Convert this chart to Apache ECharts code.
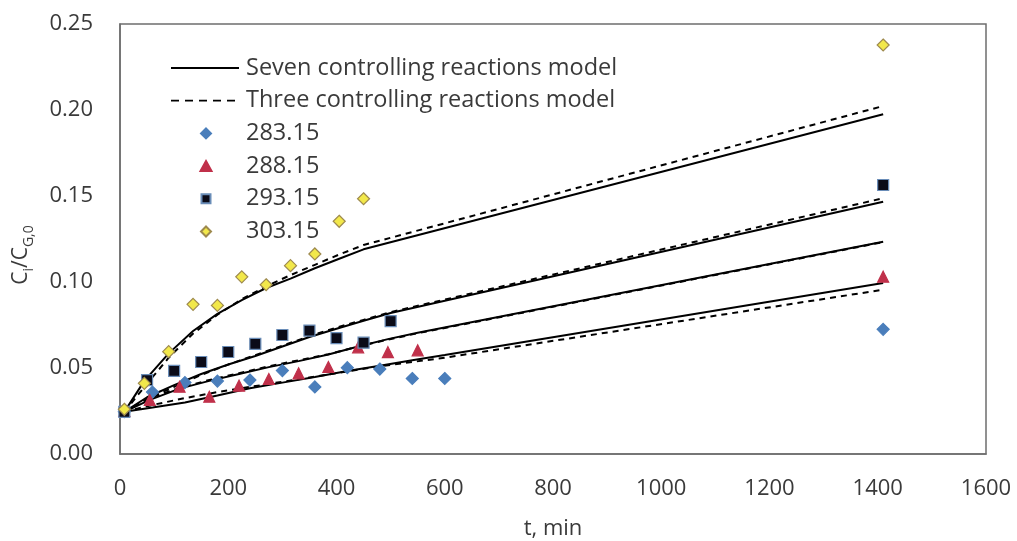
<!DOCTYPE html>
<html>
<head>
<meta charset="utf-8">
<script src="https://cdn.jsdelivr.net/npm/echarts@6/dist/echarts.min.js"></script>
<style>html,body{margin:0;padding:0;background:#fff}#c{width:1017px;height:541px}</style>
</head>
<body>
<div id="c"></div>
<script>
// ---- data ----
var xTicks = [0, 200, 400, 600, 800, 1000, 1200, 1400, 1600];
var yTicks = [0, 0.05, 0.10, 0.15, 0.20, 0.25];

var t283 = [8, 60, 120, 180, 240, 300, 360, 420, 480, 540, 600, 1410];
var v283 = [0.0246, 0.0360, 0.0415, 0.0424, 0.0430, 0.0485, 0.0390, 0.0502, 0.0494, 0.0439, 0.0439, 0.0725];
var t288 = [8, 55, 110, 165, 220, 275, 330, 385, 440, 495, 550, 1410];
var v288 = [0.0250, 0.0314, 0.0391, 0.0333, 0.0397, 0.0436, 0.0469, 0.0506, 0.0620, 0.0592, 0.0603, 0.1031];
var t293 = [8, 50, 100, 150, 200, 250, 300, 350, 400, 450, 500, 1410];
var v293 = [0.0245, 0.0430, 0.0483, 0.0535, 0.0593, 0.0640, 0.0692, 0.0717, 0.0674, 0.0647, 0.0772, 0.1564];
var t303 = [8, 45, 90, 135, 180, 225, 270, 315, 360, 405, 450, 1410];
var v303 = [0.0260, 0.0411, 0.0595, 0.0870, 0.0864, 0.1030, 0.0984, 0.1095, 0.1163, 0.1353, 0.1484, 0.2378];

// model curves (evaluated at the same times)
var seven283 = [0.0245, 0.0270, 0.0300, 0.0340, 0.0382, 0.0415, 0.0448, 0.0482, 0.0513, 0.0545, 0.0575, 0.0994];
var three283 = [0.0245, 0.0285, 0.0325, 0.0360, 0.0390, 0.0420, 0.0450, 0.0480, 0.0510, 0.0535, 0.0560, 0.0955];
var seven288 = [0.0245, 0.0315, 0.0380, 0.0425, 0.0465, 0.0505, 0.0540, 0.0578, 0.0625, 0.0668, 0.0705, 0.1234];
var three288 = [0.0245, 0.0325, 0.0385, 0.0430, 0.0470, 0.0510, 0.0545, 0.0580, 0.0625, 0.0665, 0.0702, 0.1232];
var seven293 = [0.0245, 0.0330, 0.0400, 0.0465, 0.0520, 0.0570, 0.0625, 0.0680, 0.0728, 0.0775, 0.0820, 0.1467];
var three293 = [0.0245, 0.0320, 0.0390, 0.0460, 0.0520, 0.0575, 0.0630, 0.0685, 0.0735, 0.0780, 0.0825, 0.1487];
var seven303 = [0.0245, 0.0425, 0.0585, 0.0715, 0.0815, 0.0895, 0.0965, 0.1020, 0.1080, 0.1135, 0.1190, 0.1975];
var three303 = [0.0245, 0.0390, 0.0560, 0.0700, 0.0810, 0.0900, 0.0975, 0.1040, 0.1100, 0.1160, 0.1215, 0.2023];

var SEVEN = 'Seven controlling reactions model';
var THREE = 'Three controlling reactions model';
var legendNames = [SEVEN, THREE, '283.15', '288.15', '293.15', '303.15'];

function pairs(t, v) { return t.map(function (x, i) { return [x, v[i]]; }); }

var FONT = 'Open Sans';
var TXT = '#3a3a3a';

// legend icons: 68x10 boxes (degenerate corner points fix the bounding box)
var BOX = 'M0,0 L0,0 M68,10 L68,10 ';
var ICONS = {};
ICONS[SEVEN] = 'path://' + BOX + 'M0,4.1 L68,4.1 L68,5.9 L0,5.9 Z';
ICONS[THREE] = 'path://' + BOX + 'M0,4.1 L8,4.1 L8,5.9 L0,5.9 Z M14,4.1 L22,4.1 L22,5.9 L14,5.9 Z M28,4.1 L36,4.1 L36,5.9 L28,5.9 Z M42,4.1 L50,4.1 L50,5.9 L42,5.9 Z M56,4.1 L64,4.1 L64,5.9 L56,5.9 Z';
ICONS['283.15'] = 'path://' + BOX + 'M35,0 L40,5 L35,10 L30,5 Z';
ICONS['288.15'] = 'path://' + BOX + 'M35,0 L40.5,10 L29.5,10 Z';
ICONS['293.15'] = 'path://' + BOX + 'M30.5,0.5 L39.5,0.5 L39.5,9.5 L30.5,9.5 Z';
ICONS['303.15'] = 'path://' + BOX + 'M35,0 L40,5 L35,10 L30,5 Z';

function modelLine(name, t, v, dashed) {
  return {
    name: name, type: 'line', data: pairs(t, v), symbol: 'none', z: 2,
    lineStyle: { color: '#000', width: 2, type: dashed ? [6, 5] : 'solid' },
    itemStyle: { color: '#000', borderWidth: 0 }, animation: false, silent: true
  };
}
function scatter(name, t, v, symbol, size, fill, border) {
  return {
    name: name, type: 'scatter', data: pairs(t, v), symbol: symbol, symbolSize: size, z: 5,
    itemStyle: { color: fill, borderColor: border, borderWidth: 1.2, opacity: 1 },
    animation: false
  };
}

var series = [
  modelLine(SEVEN, t283, seven283, false),
  modelLine(SEVEN, t288, seven288, false),
  modelLine(SEVEN, t293, seven293, false),
  modelLine(SEVEN, t303, seven303, false),
  modelLine(THREE, t283, three283, true),
  modelLine(THREE, t288, three288, true),
  modelLine(THREE, t293, three293, true),
  modelLine(THREE, t303, three303, true),
  scatter('283.15', t283, v283, 'diamond', 12, '#4A7EBB', '#4A7EBB'),
  scatter('288.15', t288, v288, 'triangle', 11, '#C0304A', '#C0304A'),
  scatter('293.15', t293, v293, 'rect', 11, '#0B0B18', '#6A8DB8'),
  scatter('303.15', t303, v303, 'diamond', 12, '#F2E84A', '#9E8A4E')
];

var chart = echarts.init(document.getElementById('c'), null, { renderer: 'canvas' });
chart.setOption({
  animation: false,
  backgroundColor: '#fff',
  grid: { left: 120, right: 31, top: 24, bottom: 87, show: true, borderColor: '#6e6e6e', borderWidth: 1.5, backgroundColor: 'transparent', outerBoundsMode: 'none', containLabel: false },
  legend: {
    data: legendNames.map(function (n) { return { name: n, icon: ICONS[n] }; }),
    orient: 'vertical', left: 170, top: 56, padding: 0,
    itemWidth: 68, itemHeight: 10, itemGap: 8.7, symbolKeepAspect: true,
    textStyle: { fontFamily: FONT, fontSize: 23.5, color: TXT, padding: [0, 0, 0, 2] },
    selectedMode: false
  },
  xAxis: {
    type: 'value', min: xTicks[0], max: xTicks[xTicks.length - 1], interval: 200,
    axisLine: { show: true, lineStyle: { color: '#6e6e6e', width: 1.5 } },
    axisTick: { show: false }, splitLine: { show: false },
    axisLabel: { fontFamily: FONT, fontSize: 22, color: TXT, margin: 24, formatter: function (v) { return String(v); } },
    name: 't, min', nameLocation: 'middle', nameGap: 64,
    nameTextStyle: { fontFamily: FONT, fontSize: 22, color: TXT }
  },
  yAxis: {
    type: 'value', min: yTicks[0], max: yTicks[yTicks.length - 1], interval: 0.05,
    axisLine: { show: true, lineStyle: { color: '#6e6e6e', width: 1.5 } },
    axisTick: { show: false }, splitLine: { show: false },
    axisLabel: { fontFamily: FONT, fontSize: 22, color: TXT, margin: 27, formatter: function (v) { return v.toFixed(2); } },
    name: '{m|C}{s|i}{m|/C}{s|G,0}', nameLocation: 'middle', nameRotate: 90, nameGap: 84,
    nameTextStyle: {
      fontFamily: FONT, color: TXT, padding: [0, 32, 0, 0],
      rich: {
        m: { fontFamily: FONT, fontSize: 21, color: TXT, lineHeight: 30 },
        s: { fontFamily: FONT, fontSize: 14, color: TXT, lineHeight: 14, verticalAlign: 'bottom' }
      }
    }
  },
  series: series
});
</script>
</body>
</html>
